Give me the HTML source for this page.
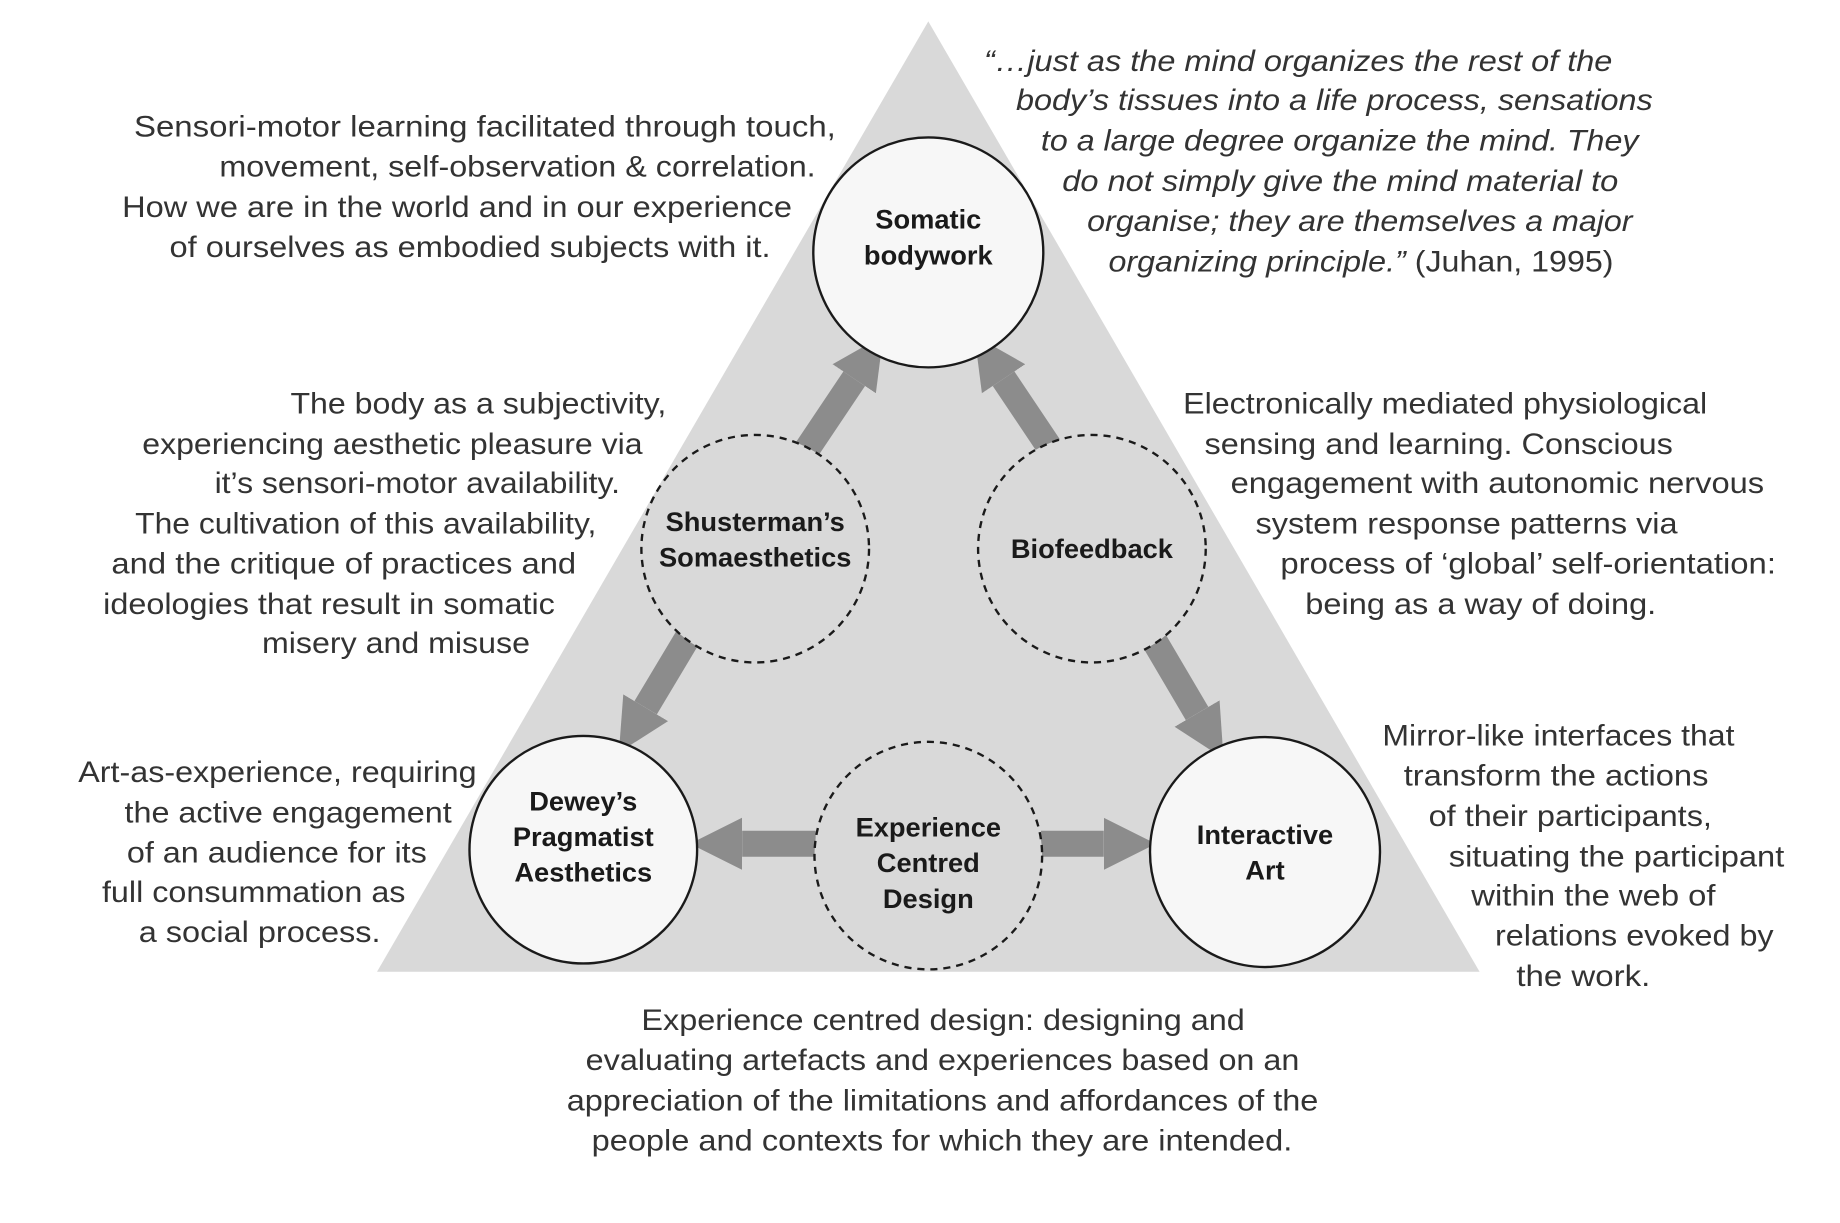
<!DOCTYPE html>
<html><head><meta charset="utf-8"><style>
html,body{margin:0;padding:0;background:#fff;}
svg{display:block;}
text{font-family:"Liberation Sans",sans-serif;fill:#333;}
.t{font-size:25px;}
.b{font-size:23px;font-weight:bold;fill:#1a1a1a;text-anchor:middle;}
</style></head><body>
<svg width="1840" height="1223" viewBox="0 0 1552 1032" preserveAspectRatio="none" xmlns="http://www.w3.org/2000/svg">
<defs>
<marker id="h" viewBox="0 0 10 10" refX="0" refY="5" markerWidth="2" markerHeight="2.6" orient="auto" markerUnits="strokeWidth">
<path d="M0,0 L10,5 L0,10 z" fill="#8c8c8c"/>
</marker>
</defs>
<rect width="1552" height="1032" fill="#fff"/>
<polygon points="783,18 318,820 1248,820" fill="#d9d9d9"/>
<g stroke="#8c8c8c" stroke-width="22" marker-end="url(#h)" fill="none">
<line x1="680" y1="380" x2="720.5" y2="319.6"/>
<line x1="887" y1="380" x2="846.5" y2="319.6"/>
<line x1="580" y1="538" x2="544.6" y2="597.2"/>
<line x1="972" y1="538" x2="1009.7" y2="602.1"/>
<line x1="688" y1="712" x2="626" y2="712"/>
<line x1="878" y1="712" x2="931" y2="712"/>
</g>
<g fill="#f7f7f7" stroke="#1a1a1a" stroke-width="2">
<circle cx="783" cy="213" r="97"/>
<circle cx="492" cy="717" r="96"/>
<circle cx="1067" cy="719" r="97"/>
</g>
<g fill="#d9d9d9" stroke="#1a1a1a" stroke-width="2" stroke-dasharray="6,5">
<circle cx="637" cy="463" r="96"/>
<circle cx="921" cy="463" r="96"/>
<circle cx="783" cy="722" r="96"/>
</g>
<text class="b" x="783" y="193">Somatic</text>
<text class="b" x="783" y="223">bodywork</text>
<text class="b" x="637" y="448">Shusterman’s</text>
<text class="b" x="637" y="478">Somaesthetics</text>
<text class="b" x="921" y="471">Biofeedback</text>
<text class="b" x="492" y="684">Dewey’s</text>
<text class="b" x="492" y="714">Pragmatist</text>
<text class="b" x="492" y="744">Aesthetics</text>
<text class="b" x="1067" y="712">Interactive</text>
<text class="b" x="1067" y="742">Art</text>
<text class="b" x="783" y="706">Experience</text>
<text class="b" x="783" y="736">Centred</text>
<text class="b" x="783" y="766">Design</text>

<g class="t" lengthAdjust="spacingAndGlyphs">
<text class="t" x="113" y="115" textLength="592" lengthAdjust="spacingAndGlyphs">Sensori-motor learning facilitated  through touch,</text>
<text class="t" x="185" y="149" textLength="503" lengthAdjust="spacingAndGlyphs">movement, self-observation &amp; correlation.</text>
<text class="t" x="103" y="183" textLength="565" lengthAdjust="spacingAndGlyphs">How we are in the world and in our experience</text>
<text class="t" x="143" y="217" textLength="507" lengthAdjust="spacingAndGlyphs">of ourselves as embodied subjects with it.</text>

<text class="t" x="830" y="60" textLength="530" lengthAdjust="spacingAndGlyphs" font-style="italic">“…just as the mind organizes the rest of the</text>
<text class="t" x="857" y="93" textLength="537" lengthAdjust="spacingAndGlyphs" font-style="italic">body’s tissues into a life process, sensations</text>
<text class="t" x="878" y="127" textLength="504" lengthAdjust="spacingAndGlyphs" font-style="italic">to a large degree organize the mind. They</text>
<text class="t" x="896" y="161" textLength="469" lengthAdjust="spacingAndGlyphs" font-style="italic">do not simply give the mind material to</text>
<text class="t" x="917" y="195" textLength="460" lengthAdjust="spacingAndGlyphs" font-style="italic">organise; they are themselves a major</text>
<text class="t" x="935" y="229" textLength="426" lengthAdjust="spacingAndGlyphs"><tspan font-style="italic">organizing principle.”</tspan> (Juhan, 1995)</text>

<text class="t" x="245" y="349" textLength="317" lengthAdjust="spacingAndGlyphs">The body as a subjectivity,</text>
<text class="t" x="120" y="383" textLength="422" lengthAdjust="spacingAndGlyphs">experiencing aesthetic pleasure via</text>
<text class="t" x="181" y="416" textLength="342" lengthAdjust="spacingAndGlyphs">it’s sensori-motor availability.</text>
<text class="t" x="114" y="450" textLength="389" lengthAdjust="spacingAndGlyphs">The cultivation of this availability,</text>
<text class="t" x="94" y="484" textLength="392" lengthAdjust="spacingAndGlyphs">and the critique of practices and</text>
<text class="t" x="87" y="518" textLength="381" lengthAdjust="spacingAndGlyphs">ideologies that result in somatic</text>
<text class="t" x="221" y="551" textLength="226" lengthAdjust="spacingAndGlyphs">misery and misuse</text>

<text class="t" x="998" y="349" textLength="442" lengthAdjust="spacingAndGlyphs">Electronically mediated physiological</text>
<text class="t" x="1016" y="383" textLength="395" lengthAdjust="spacingAndGlyphs">sensing and learning. Conscious</text>
<text class="t" x="1038" y="416" textLength="450" lengthAdjust="spacingAndGlyphs">engagement with autonomic nervous</text>
<text class="t" x="1059" y="450" textLength="356" lengthAdjust="spacingAndGlyphs">system response patterns via</text>
<text class="t" x="1080" y="484" textLength="418" lengthAdjust="spacingAndGlyphs">process of ‘global’ self-orientation:</text>
<text class="t" x="1101" y="518" textLength="296" lengthAdjust="spacingAndGlyphs">being as a way of doing.</text>

<text class="t" x="66" y="660" textLength="336" lengthAdjust="spacingAndGlyphs">Art-as-experience, requiring</text>
<text class="t" x="105" y="694" textLength="276" lengthAdjust="spacingAndGlyphs">the active engagement</text>
<text class="t" x="107" y="728" textLength="253" lengthAdjust="spacingAndGlyphs">of an audience for its</text>
<text class="t" x="86" y="761" textLength="256" lengthAdjust="spacingAndGlyphs">full consummation as</text>
<text class="t" x="117" y="795" textLength="204" lengthAdjust="spacingAndGlyphs">a social process.</text>

<text class="t" x="1166" y="629" textLength="297" lengthAdjust="spacingAndGlyphs">Mirror-like interfaces that</text>
<text class="t" x="1184" y="663" textLength="257" lengthAdjust="spacingAndGlyphs">transform the actions</text>
<text class="t" x="1205" y="697" textLength="239" lengthAdjust="spacingAndGlyphs">of their participants,</text>
<text class="t" x="1222" y="731" textLength="283" lengthAdjust="spacingAndGlyphs">situating the participant</text>
<text class="t" x="1241" y="764" textLength="206" lengthAdjust="spacingAndGlyphs">within the web of</text>
<text class="t" x="1261" y="798" textLength="235" lengthAdjust="spacingAndGlyphs">relations evoked by</text>
<text class="t" x="1279" y="832" textLength="113" lengthAdjust="spacingAndGlyphs">the work.</text>

<text class="t" x="541" y="869" textLength="509" lengthAdjust="spacingAndGlyphs">Experience centred design: designing and</text>
<text class="t" x="494" y="903" textLength="602" lengthAdjust="spacingAndGlyphs">evaluating artefacts and experiences based on an</text>
<text class="t" x="478" y="937" textLength="634" lengthAdjust="spacingAndGlyphs">appreciation of the limitations and affordances of the</text>
<text class="t" x="499" y="971" textLength="591" lengthAdjust="spacingAndGlyphs">people and contexts for which they are intended.</text>
</g>
</svg>
</body></html>
